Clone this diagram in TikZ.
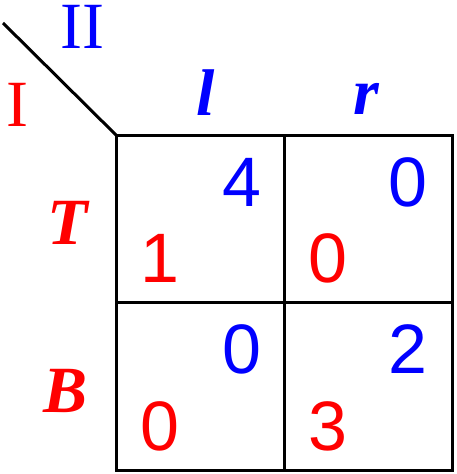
\documentclass[tikz,border=0pt]{standalone}
\usepackage{fontspec}
\setmainfont{Liberation Serif}
\newfontfamily\digitfont{Liberation Sans}
\begin{document}
\begin{tikzpicture}[x=1pt,y=-1pt,
  grid/.style={line width=3pt, line cap=rect},
  lbl/.style={inner sep=0, anchor=base, font=\fontsize{66}{66}\selectfont},
  strat/.style={inner sep=0, anchor=base, font=\fontsize{66}{66}\selectfont\bfseries\itshape},
  num/.style={inner sep=0, anchor=base, font=\fontsize{70}{70}\selectfont\digitfont},
  pone/.style={text=red},
  ptwo/.style={text=blue}]
\useasboundingbox (0,0) rectangle (456,474);
\coordinate (tl) at (116,135);
\coordinate (tr) at (452,135);
\coordinate (bl) at (116,470);
\coordinate (br) at (452,470);
\coordinate (corner) at (3,23);
\draw[grid] (tl) rectangle (br);
\draw[grid] (284,135) -- (284,470);
\draw[grid] (116,302) -- (452,302);
\draw[line width=3pt] (corner) -- (tl);
\node[lbl,ptwo] (p2) at (82,48) {II};
\node[lbl,pone] (p1) at (17,126) {I};
\node[strat,ptwo] (sl) at (206,115) {l};
\node[strat,ptwo] (sr) at (366,114) {r};
\node[strat,pone] (sT) at (68,244) {T};
\node[strat,pone] (sB) at (66,412) {B};
\node[num,ptwo] (a2) at (242,206) {4};
\node[num,pone] (a1) at (160,282) {1};
\node[num,ptwo] (b2) at (408,206) {0};
\node[num,pone] (b1) at (328,282) {0};
\node[num,ptwo] (c2) at (242,373) {0};
\node[num,pone] (c1) at (160,450) {0};
\node[num,ptwo] (d2) at (408,373) {2};
\node[num,pone] (d1) at (328,450) {3};
\end{tikzpicture}
\end{document}
